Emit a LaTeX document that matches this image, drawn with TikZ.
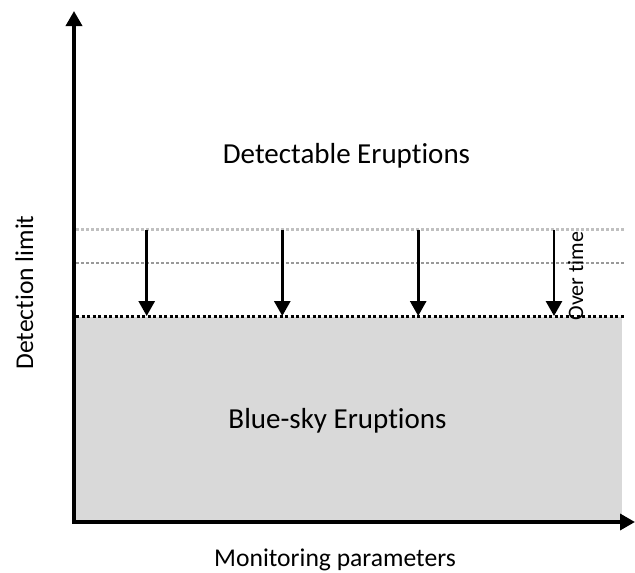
\documentclass[tikz,border=0pt]{standalone}
\usepackage{fontspec}
\setmainfont{Carlito}[Ligatures={NoCommon}]
\usetikzlibrary{arrows.meta}

\definecolor{skygray}{HTML}{D9D9D9}
\definecolor{lightdot}{HTML}{C0C0C0}
\definecolor{middot}{HTML}{999999}

\begin{document}
\begin{tikzpicture}[
    x=1pt, y=-1pt,
    ax/.style={-{Triangle[length=15pt, width=16pt]}, line width=3.5pt},
    a/.style={-{Triangle[length=15pt, width=16pt]}, line width=2.8pt},
    lim/.style={dash pattern=on 3pt off 2pt, line width=2.2pt},
    big/.style={font=\fontsize{29}{35}\selectfont, inner sep=0pt, anchor=base},
    lbl/.style={font=\fontsize{25.6}{30}\selectfont, inner sep=0pt, anchor=base},
]
\useasboundingbox (0,0) rectangle (635,573);

% blue-sky region under the current limit
\fill[skygray] (74,317) rectangle (622,521);

% detection limits, older ones lighter
\draw[lim, lightdot] (76,229.5) -- (624,229.5);
\draw[lim, middot] (76,263) -- (624,263);
\draw[lim, black, line width=3pt, dash pattern=on 3pt off 2.5pt] (76,316.5) -- (624,316.5);

% axes
\coordinate (o) at (74,522);
\coordinate (ytop) at (74,11);
\coordinate (xend) at (635,522);
\draw[ax] ([yshift=1.75pt]o) -- (ytop);
\draw[ax] ([xshift=-1.75pt]o) -- (xend);

% limit moving down
\coordinate (t1) at (146.7,229.5);
\coordinate (b1) at (146.7,316);
\coordinate (t2) at (282.3,229.5);
\coordinate (b2) at (282.3,316);
\coordinate (t3) at (418.2,229.5);
\coordinate (b3) at (418.2,316);
\coordinate (t4) at (554,229.5);
\coordinate (b4) at (554,316);
\draw[a] (t1) -- (b1);
\draw[a] (t2) -- (b2);
\draw[a] (t3) -- (b3);
\draw[a] (t4) -- (b4);

\node[font=\fontsize{22}{26}\selectfont, inner sep=0pt, anchor=base, rotate=90] (time) at (583,276) {Over time};

\node[big] (det) at (346.5,163) {Detectable Eruptions};
\node[big] (blue) at (337.5,428) {Blue-sky Eruptions};

\node[lbl] (xlab) at (335,566) {Monitoring parameters};
\node[lbl, rotate=90] (ylab) at (33,292.5) {Detection limit};
\end{tikzpicture}
\end{document}
